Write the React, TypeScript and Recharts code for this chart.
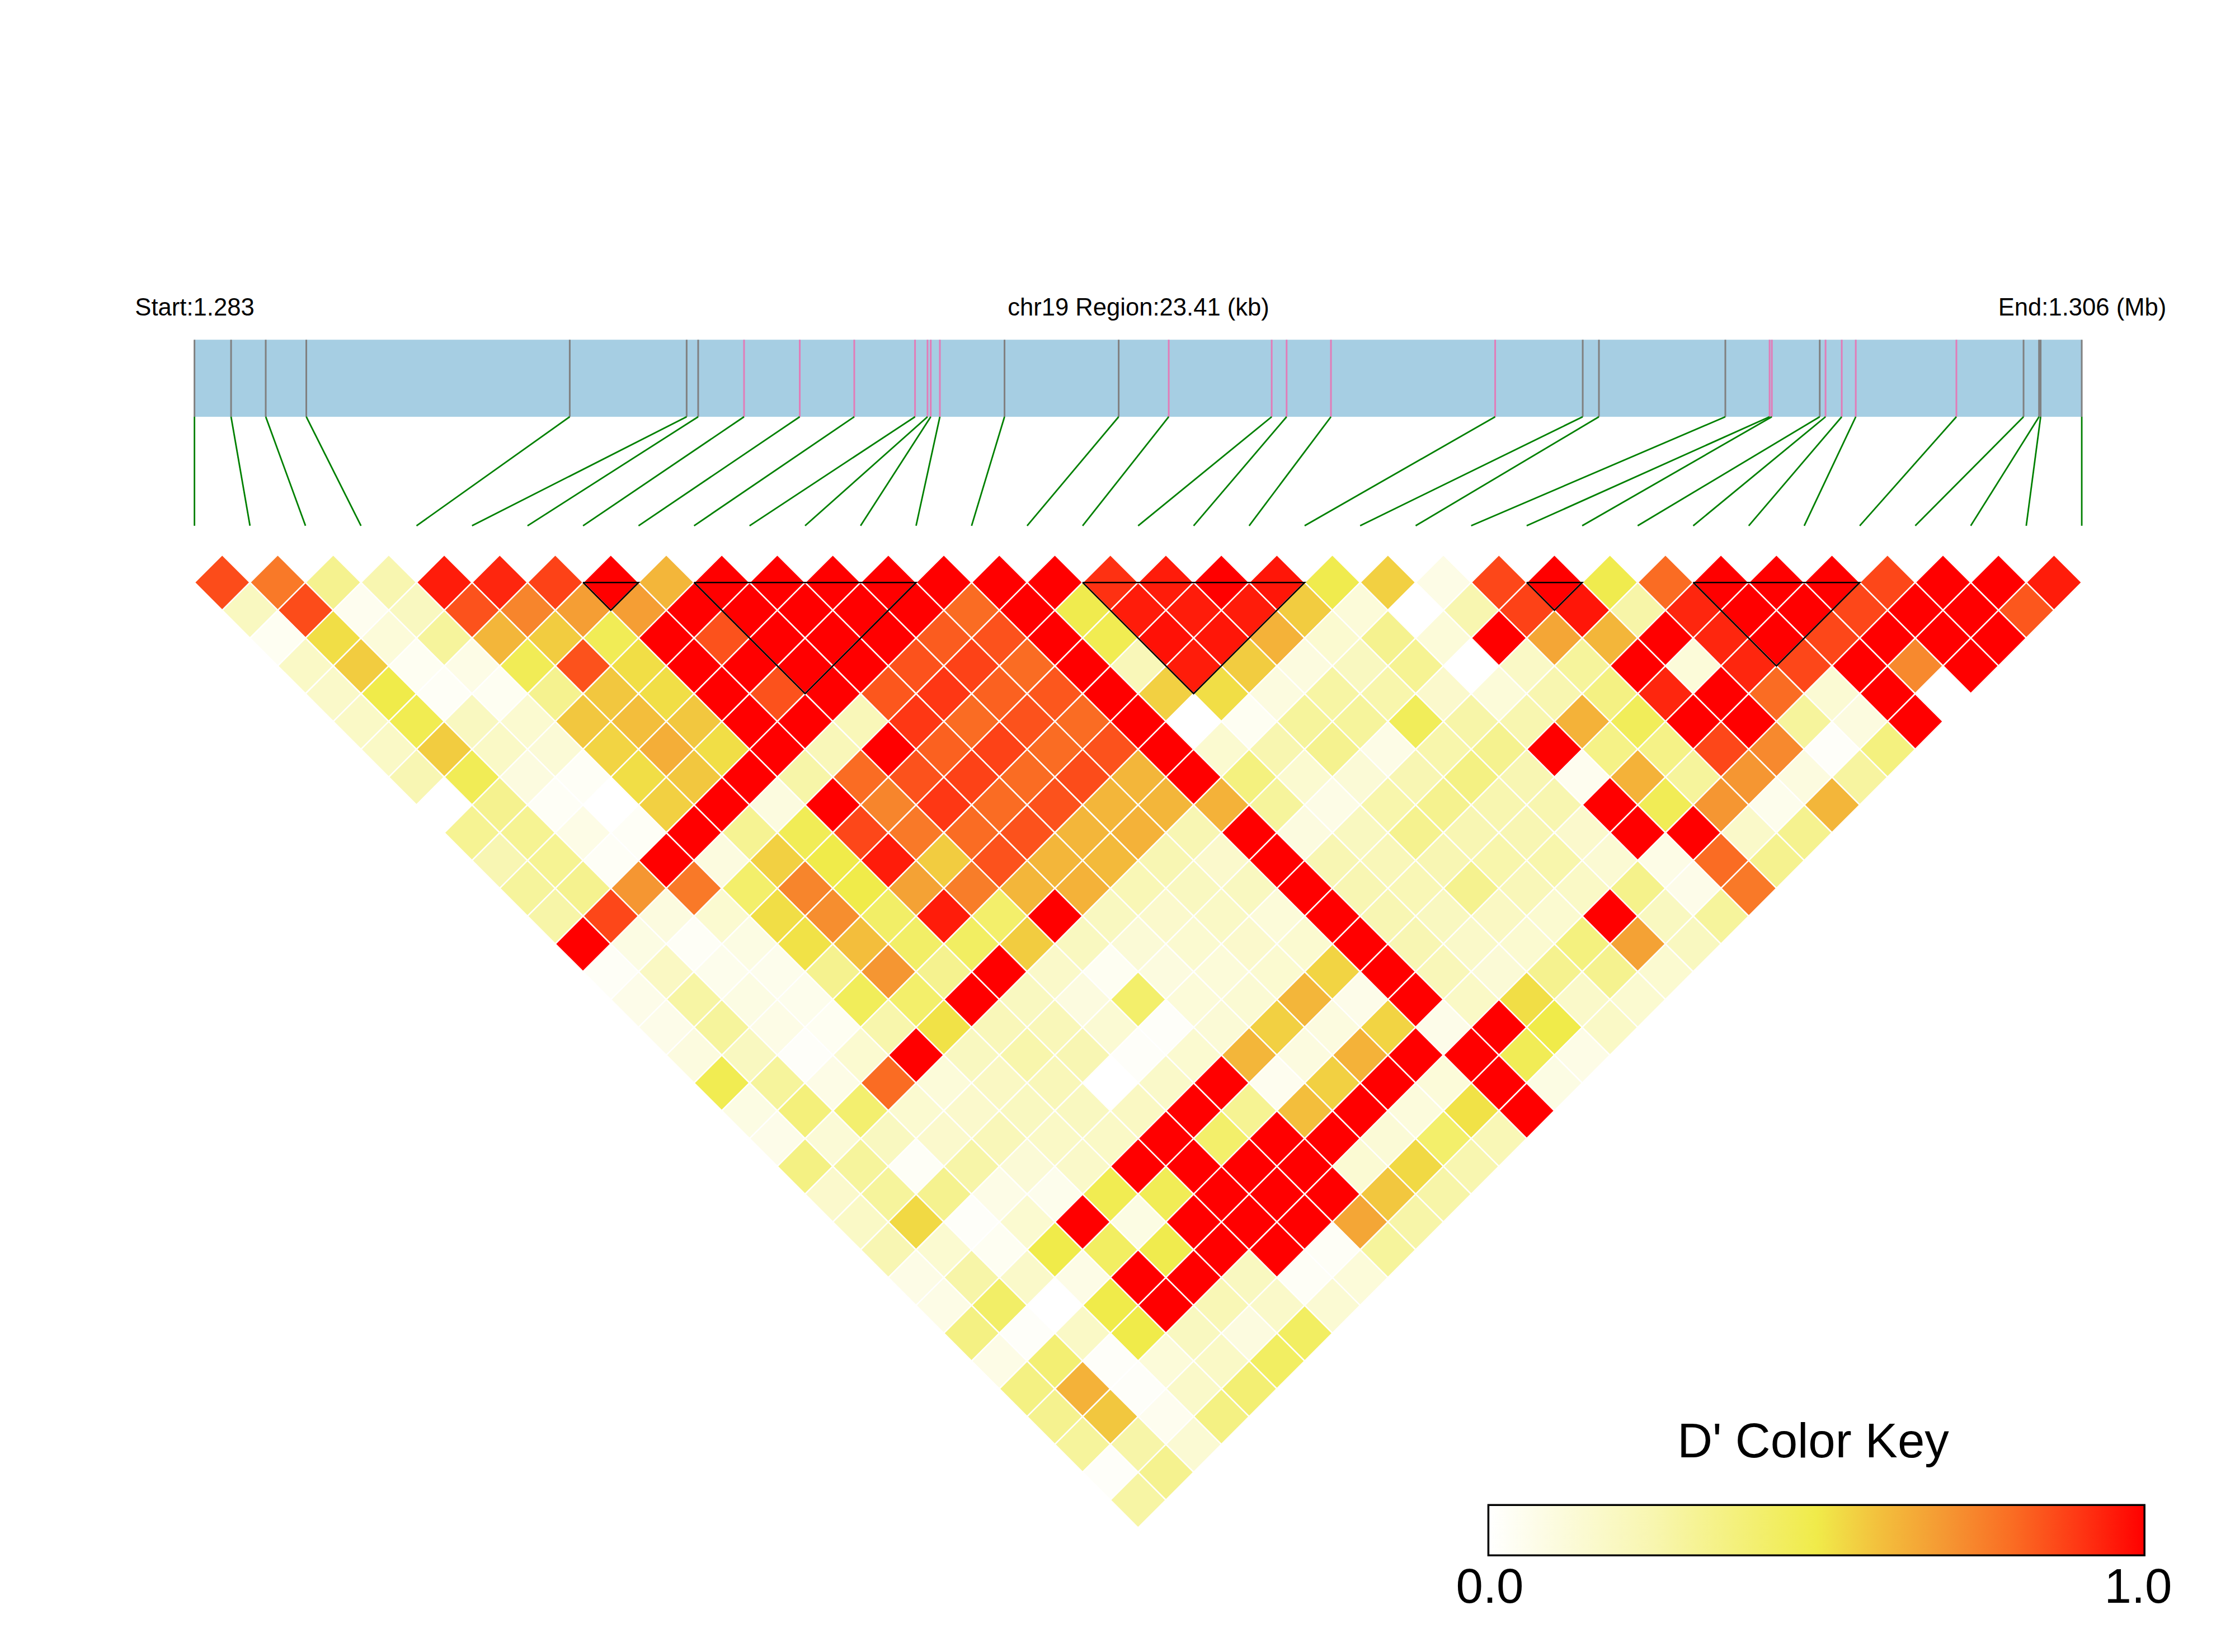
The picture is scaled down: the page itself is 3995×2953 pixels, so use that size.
import { ScatterChart, Scatter, XAxis, YAxis, ReferenceArea, ReferenceLine } from "recharts";

// kb from region start
const snpPositions = [
    0, 0.454, 0.884, 1.387, 4.655, 6.105, 6.248, 6.817, 7.508, 8.184, 8.938, 9.093, 9.133, 9.246, 10.048, 11.464, 12.085, 13.362,
    13.547, 14.097, 16.134, 17.22, 17.421, 18.989, 19.538, 19.566, 20.16, 20.232, 20.433, 20.607, 21.855, 22.688, 22.88, 22.9, 23.41,
];
const pinkSnps = [7, 8, 9, 10, 11, 12, 13, 16, 17, 18, 19, 20, 24, 25, 27, 28, 29, 30];
const regionKb = 23.41;

// D' per diagonal, row 0 = neighbouring SNPs
const row00 = [0.86, 0.77, 0.33, 0.25, 0.95, 0.93, 0.88, 1, 0.62, 1, 1, 1, 1, 1, 1, 1, 0.91, 0.95, 1, 0.96, 0.49, 0.56, 0.08, 0.87, 1, 0.49, 0.8, 1, 1, 1, 0.87, 1, 1, 0.95];
const row01 = [0.2, 0.86, 0.05, 0.2, 0.85, 0.74, 0.68, 0.68, 1, 1, 1, 1, 1, 0.8, 1, 0.49, 0.95, 0.95, 0.95, 0.57, 0.12, 0, 0.25, 0.88, 0.96, 0.27, 0.93, 1, 1, 0.87, 1, 1, 0.84];
const row02 = [0.04, 0.53, 0.12, 0.3, 0.62, 0.57, 0.47, 1, 0.85, 1, 1, 1, 0.83, 0.85, 1, 0.48, 0.97, 0.96, 0.63, 0.15, 0.33, 0.12, 1, 0.66, 0.62, 1, 0.93, 1, 0.87, 1, 1, 1];
const row03 = [0.18, 0.57, 0.04, 0.08, 0.47, 0.85, 0.53, 1, 1, 1, 1, 0.85, 0.88, 0.8, 1, 0.22, 0.95, 0.57, 0.1, 0.2, 0.32, 0, 0.18, 0.3, 1, 0.12, 0.93, 0.87, 1, 0.73, 1];
const row04 = [0.17, 0.5, 0.03, 0.04, 0.33, 0.58, 0.53, 1, 0.85, 1, 0.84, 0.9, 0.82, 0.84, 1, 0.56, 0.53, 0.1, 0.28, 0.26, 0.16, 0.12, 0.25, 0.36, 0.93, 1, 0.8, 0.14, 1, 0];
const row05 = [0.18, 0.48, 0.2, 0.15, 0.58, 0.6, 0.58, 1, 1, 0.22, 0.9, 0.8, 0.85, 0.8, 1, 0, 0.04, 0.3, 0.3, 0.46, 0.27, 0.25, 0.63, 0.46, 1, 1, 0.3, 0.1, 1];
const row06 = [0.18, 0.57, 0.18, 0.13, 0.55, 0.64, 0.53, 1, 0.22, 1, 0.82, 0.88, 0.8, 0.85, 1, 0.15, 0.25, 0.33, 0.08, 0.26, 0.33, 1, 0.35, 0.35, 0.87, 0.73, 0.02, 0.37];
const row07 = [0.24, 0.47, 0.1, 0.03, 0.53, 0.58, 1, 0.27, 0.8, 0.85, 0.88, 0.8, 0.86, 0.62, 1, 0.37, 0.15, 0.13, 0.24, 0.36, 0.24, 0.05, 0.63, 0.3, 0.7, 0.1, 0.29];
const row08 = [0, 0.33, 0.03, 0, 0.56, 1, 0.1, 1, 0.74, 0.9, 0.8, 0.85, 0.62, 0.62, 0.63, 0.3, 0.08, 0.26, 0.33, 0.25, 0.25, 1, 0.47, 0.7, 0.06, 0.62];
const row09 = [0.32, 0.32, 0.08, 0.03, 1, 0.32, 0.47, 0.87, 0.77, 0.8, 0.85, 0.62, 0.63, 0.24, 1, 0.1, 0.2, 0.33, 0.24, 0.24, 0.16, 1, 1, 0.17, 0.33];
const row10 = [0.24, 0.32, 0.03, 1, 0.1, 0.56, 0.5, 0.95, 0.57, 0.85, 0.62, 0.61, 0.24, 0.16, 1, 0.24, 0.22, 0.24, 0.26, 0.26, 0.14, 0.08, 0.8, 0.33];
const row11 = [0.3, 0.33, 0.7, 0.77, 0.42, 0.74, 0.5, 0.67, 0.76, 0.62, 0.63, 0.23, 0.2, 0.2, 1, 0.24, 0.23, 0.33, 0.22, 0.18, 0.34, 0.07, 0.77];
const row12 = [0.27, 0.87, 0.1, 0.15, 0.53, 0.72, 0.43, 0.95, 0.42, 1, 0.2, 0.16, 0.18, 0.12, 1, 0.24, 0.2, 0.19, 0.15, 1, 0.2, 0.3];
const row13 = [1, 0.09, 0.03, 0.09, 0.52, 0.6, 0.43, 0.44, 0.57, 0.2, 0.13, 0.15, 0.16, 0.15, 1, 0.24, 0.17, 0.15, 0.37, 0.67, 0.2];
const row14 = [0.03, 0.19, 0.06, 0.06, 0.33, 0.7, 0.33, 1, 0.17, 0.04, 0.1, 0.12, 0.15, 0.55, 1, 0.22, 0.13, 0.33, 0.33, 0.15];
const row15 = [0.07, 0.28, 0.09, 0.06, 0.46, 0.42, 1, 0.2, 0.1, 0.42, 0.12, 0.14, 0.62, 0.07, 1, 0.18, 0.53, 0.17, 0.15];
const row16 = [0.07, 0.3, 0.08, 0.04, 0.26, 0.52, 0.22, 0.22, 0.14, 0.02, 0.13, 0.56, 0.1, 0.55, 0.07, 1, 0.5, 0.18];
const row17 = [0.1, 0.2, 0.02, 0.15, 1, 0.2, 0.26, 0.24, 0.02, 0.15, 0.62, 0.1, 0.63, 1, 1, 0.47, 0.08];
const row18 = [0.48, 0.3, 0.08, 0.8, 0.12, 0.19, 0.22, 0, 0.17, 1, 0.05, 0.56, 1, 0.12, 1, 0.09];
const row19 = [0.09, 0.38, 0.41, 0.15, 0.16, 0.2, 0.2, 0.19, 1, 0.32, 0.6, 1, 0.11, 0.52, 1];
const row20 = [0.07, 0.13, 0.2, 0.16, 0.22, 0.18, 0.18, 1, 0.42, 1, 1, 0.13, 0.42, 0.23];
const row21 = [0.36, 0.3, 0.03, 0.27, 0.13, 0.17, 1, 1, 1, 1, 0.14, 0.54, 0.25];
const row22 = [0.16, 0.3, 0.33, 0.08, 0.06, 0.48, 0.47, 1, 1, 1, 0.58, 0.27];
const row23 = [0.18, 0.54, 0.02, 0.15, 1, 0.09, 1, 1, 1, 0.66, 0.27];
const row24 = [0.24, 0.15, 0.04, 0.5, 0.44, 0.49, 1, 1, 0.03, 0.3];
const row25 = [0.08, 0.27, 0.17, 0.08, 1, 1, 0.2, 0.03, 0.12];
const row26 = [0.08, 0.43, 0, 0.5, 1, 0.23, 0.17, 0.14];
const row27 = [0.36, 0.02, 0.18, 0.5, 0.2, 0.1, 0.44];
const row28 = [0.08, 0.4, 0.02, 0.12, 0.18, 0.44];
const row29 = [0.36, 0.63, 0.02, 0.17, 0.4];
const row30 = [0.33, 0.58, 0.05, 0.36];
const row31 = [0.3, 0.27, 0.14];
const row32 = [0.02, 0.33];
const row33 = [0.28];

const rows = [
    row00, row01, row02, row03, row04, row05, row06, row07, row08, row09, row10, row11,
    row12, row13, row14, row15, row16, row17, row18, row19, row20, row21, row22, row23,
    row24, row25, row26, row27, row28, row29, row30, row31, row32, row33,
];

// haplotype blocks, first and last SNP
const blocks = [[7, 8], [9, 13], [16, 20], [24, 25], [27, 30]];

const ramp: [number, number[]][] = [
    [0, [255, 255, 255]],
    [0.25, [248, 246, 176]],
    [0.5, [240, 235, 74]],
    [0.6, [243, 190, 60]],
    [0.7, [245, 150, 50]],
    [0.8, [250, 108, 35]],
    [0.9, [254, 55, 20]],
    [1, [255, 0, 0]],
];

function colorOf(v: number) {
    let k = 0;
    while (k < ramp.length - 2 && v > ramp[k + 1][0]) k++;
    const [a, ca] = ramp[k];
    const [b, cb] = ramp[k + 1];
    const t = (v - a) / (b - a);
    const c = ca.map((n, i) => Math.round(n + (cb[i] - n) * t));
    return `rgb(${c[0]},${c[1]},${c[2]})`;
}

const cells = rows.flatMap((values, r) =>
    values.map((value, i) => ({ x: i + 0.5 + r * 0.5, y: r, value }))
);

const CELL_HALF_W = 49.61;
const CELL_HALF_H = 49.7;

function Diamond(props: any) {
    const { cx, cy, payload } = props;
    const points = `${cx - CELL_HALF_W},${cy} ${cx},${cy - CELL_HALF_H} ${cx + CELL_HALF_W},${cy} ${cx},${cy + CELL_HALF_H}`;
    return <polygon points={points} fill={colorOf(payload.value)} stroke="#ffffff" strokeWidth={2.5} />;
}

const BAND_TOP = -8.73;
const BAND_BOTTOM = -5.96;
const LINK_BOTTOM = -2.04;
const lastSnp = snpPositions.length - 1;
const toSnpUnits = (kb: number) => (kb / regionKb) * lastSnp;

const labelFont = "'Liberation Sans', Arial, sans-serif";

export default function App() {
    return (
        <div style={{ position: "absolute", left: 0, top: 0, width: 3995, height: 2953, background: "#fff" }}>
            <ScatterChart width={3995} height={2953} margin={{ top: 47.2, right: 25.87, bottom: 23.2, left: 49.94 }}>
                <defs>
                    <linearGradient id="keyRamp" x1="0" y1="0" x2="1" y2="0">
                        {ramp.map(([v]) => (
                            <stop key={v} offset={v} stopColor={colorOf(v)} />
                        ))}
                    </linearGradient>
                </defs>
                <XAxis type="number" dataKey="x" domain={[-3, 36.5]} hide />
                <YAxis type="number" dataKey="y" domain={[-20, 38]} reversed hide />

                <ReferenceArea x1={0} x2={lastSnp} y1={BAND_TOP} y2={BAND_BOTTOM} fill="#A6CEE3" fillOpacity={1} stroke="none" />
                {snpPositions.map((kb, i) => (
                    <ReferenceLine
                        key={`tick${i}`}
                        segment={[{ x: toSnpUnits(kb), y: BAND_TOP }, { x: toSnpUnits(kb), y: BAND_BOTTOM }]}
                        stroke={pinkSnps.includes(i) ? "#E27CB8" : "#808080"}
                        strokeWidth={3}
                    />
                ))}
                {snpPositions.map((kb, i) => (
                    <ReferenceLine
                        key={`link${i}`}
                        segment={[{ x: toSnpUnits(kb), y: BAND_BOTTOM }, { x: i, y: LINK_BOTTOM }]}
                        stroke="#008000"
                        strokeWidth={2.8}
                    />
                ))}

                <Scatter data={cells} shape={Diamond} isAnimationActive={false} />
                {blocks.map(([a, b]) => (
                    <Scatter
                        key={a}
                        data={[
                            { x: a, y: 0 },
                            { x: b, y: 0 },
                            { x: (a + b) / 2, y: b - a },
                            { x: a, y: 0 },
                        ]}
                        line={{ stroke: "#000000", strokeWidth: 2.6 }}
                        shape={() => <g />}
                        isAnimationActive={false}
                    />
                ))}

                <ReferenceArea x1={23.31} x2={35.13} y1={33.18} y2={34.99} fill="url(#keyRamp)" fillOpacity={1} stroke="#000000" strokeWidth={3.5} />

                <text x={348} y={564} textAnchor="middle" fontFamily={labelFont} fontSize={43.6} fill="#000">Start:1.283</text>
                <text x={2035} y={564} textAnchor="middle" fontFamily={labelFont} fontSize={43.6} fill="#000">chr19 Region:23.41 (kb)</text>
                <text x={3722} y={564} textAnchor="middle" fontFamily={labelFont} fontSize={43.6} fill="#000">End:1.306 (Mb)</text>
                <text x={3241} y={2605} textAnchor="middle" fontFamily={labelFont} fontSize={87} fill="#000">D' Color Key</text>
                <text x={2663} y={2865} textAnchor="middle" fontFamily={labelFont} fontSize={87} fill="#000">0.0</text>
                <text x={3822} y={2865} textAnchor="middle" fontFamily={labelFont} fontSize={87} fill="#000">1.0</text>
            </ScatterChart>
        </div>
    );
}
